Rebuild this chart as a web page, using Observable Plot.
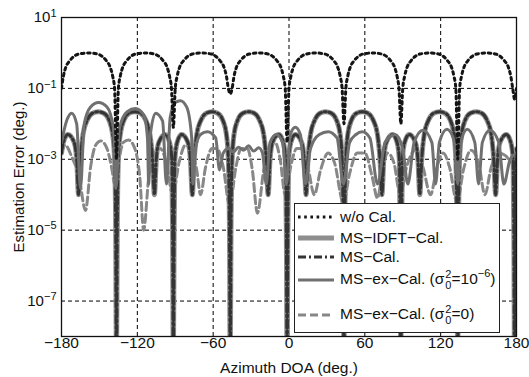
<!DOCTYPE html>
<html><head><meta charset="utf-8">
<script src="https://cdn.jsdelivr.net/npm/d3@7"></script>
<script src="https://cdn.jsdelivr.net/npm/@observablehq/plot@0.6"></script>
<style>
body{margin:0;background:#fff;}
#wrap{position:relative;width:529px;height:377px;font-family:"Liberation Sans",Arial,sans-serif;color:#111;}
#legend{position:absolute;left:294px;top:203px;width:206px;height:130px;border:1.3px solid #222;background:#fff;box-sizing:border-box;}
.row{position:absolute;left:3px;height:20px;display:flex;align-items:center;font-size:15.5px;white-space:nowrap;color:#111;}
.row svg{margin-right:6px;}
.stack{display:inline-flex;flex-direction:column;font-size:11px;line-height:11px;vertical-align:middle;margin:0 0 0 1px;text-align:center;}
.sup{font-size:11px;position:relative;top:-7px;}
</style></head><body>
<div id="wrap"></div>
<script>
// ---------- data (deg, deg error) ----------
const xTicks = [-180, -120, -60, 0, 60, 120, 180];
const yTicks = [1e-7, 1e-5, 1e-3, 1e-1, 1e1];

const woCal = [
[-180,0.1],[-178.5,0.22],[-176.5,0.4],[-173.5,0.6],[-170.5,0.78],[-166.5,0.93],[-159,1.0],[-151.5,0.93],[-147.5,0.78],[-144.5,0.6],[-141.5,0.4],[-139.5,0.22],[-138,0.1],[-136.5,0.001],
[-135,0.1],[-133.5,0.22],[-131.5,0.4],[-128.5,0.6],[-125.5,0.78],[-121.5,0.93],[-114,1.0],[-106.5,0.93],[-102.5,0.78],[-99.5,0.6],[-96.5,0.4],[-94.5,0.22],[-93,0.1],[-91.5,0.008],
[-90,0.1],[-88.5,0.22],[-86.5,0.4],[-83.5,0.6],[-80.5,0.78],[-76.5,0.93],[-69,1.0],[-61.5,0.93],[-57.5,0.78],[-54.5,0.6],[-51.5,0.4],[-49.5,0.22],[-48,0.1],[-46.5,0.07],
[-45,0.1],[-43.5,0.22],[-41.5,0.4],[-38.5,0.6],[-35.5,0.78],[-31.5,0.93],[-24,1.0],[-16.5,0.93],[-12.5,0.78],[-9.5,0.6],[-6.5,0.4],[-4.5,0.22],[-3,0.1],[-1.5,0.003],
[0,0.1],[1.5,0.22],[3.5,0.4],[6.5,0.6],[9.5,0.78],[13.5,0.93],[21,1.0],[28.5,0.93],[32.5,0.78],[35.5,0.6],[38.5,0.4],[40.5,0.22],[42,0.1],[43.5,0.01],
[45,0.1],[46.5,0.22],[48.5,0.4],[51.5,0.6],[54.5,0.78],[58.5,0.93],[66,1.0],[73.5,0.93],[77.5,0.78],[80.5,0.6],[83.5,0.4],[85.5,0.22],[87,0.1],[88.5,0.01],
[90,0.1],[91.5,0.22],[93.5,0.4],[96.5,0.6],[99.5,0.78],[103.5,0.93],[111,1.0],[118.5,0.93],[122.5,0.78],[125.5,0.6],[128.5,0.4],[130.5,0.22],[132,0.1],[133.5,0.001],
[135,0.1],[136.5,0.22],[138.5,0.4],[141.5,0.6],[144.5,0.78],[148.5,0.93],[156,1.0],[163.5,0.93],[167.5,0.78],[170.5,0.6],[173.5,0.4],[175.5,0.22],[177,0.1],[178.5,0.05],[180,0.1]
];

const msCal = [
[-180,1.5e-3],[-178.5,3e-3],[-175,5e-3],[-170,3e-3],[-168,1e-3],[-166.5,1e-4],[-165,1e-3],[-163,5e-3],[-159.5,0.013],[-155.5,0.02],[-151,0.022],[-146.5,0.02],[-142.5,0.013],[-139.5,5e-3],[-138,1e-3],[-137.1,1e-5],[-136.5,1e-9],
[-135.9,1e-5],[-135,1e-3],[-133.5,5e-3],[-130.5,0.013],[-126.5,0.02],[-122,0.022],[-117.5,0.02],[-113.5,0.013],[-110,5e-3],[-108,1e-3],[-106.5,1e-4],[-105,1e-3],[-103,3e-3],[-98,5e-3],[-94.5,3e-3],[-92.7,1e-3],[-92.1,1e-5],[-91.5,1e-9],
[-90.9,1e-5],[-90.3,1e-3],[-88.5,3e-3],[-85,5e-3],[-80,3e-3],[-78,1e-3],[-76.5,1e-4],[-75,1e-3],[-73,5e-3],[-69.5,0.013],[-65.5,0.02],[-61,0.022],[-56.5,0.02],[-52.5,0.013],[-49.5,5e-3],[-48,1e-3],[-47.1,1e-5],[-46.5,1e-9],
[-45.9,1e-5],[-45,1e-3],[-43.5,5e-3],[-40.5,0.013],[-36.5,0.02],[-32,0.022],[-27.5,0.02],[-23.5,0.013],[-20,5e-3],[-18,1e-3],[-16.5,1e-4],[-15,1e-3],[-13,3e-3],[-8,5e-3],[-4.5,3e-3],[-2.7,1e-3],[-2.1,1e-5],[-1.5,1e-9],
[-0.9,1e-5],[-0.3,1e-3],[1.5,3e-3],[5,5e-3],[10,3e-3],[12,1e-3],[13.5,1e-4],[15,1e-3],[17,5e-3],[20.5,0.013],[24.5,0.02],[29,0.022],[33.5,0.02],[37.5,0.013],[40.5,5e-3],[42,1e-3],[42.9,1e-5],[43.5,1e-9],
[44.1,1e-5],[45,1e-3],[46.5,5e-3],[49.5,0.013],[53.5,0.02],[58,0.022],[62.5,0.02],[66.5,0.013],[70,5e-3],[72,1e-3],[73.5,1e-4],[75,1e-3],[77,3e-3],[82,5e-3],[85.5,3e-3],[87.3,1e-3],[87.9,1e-5],[88.5,1e-9],
[89.1,1e-5],[89.7,1e-3],[91.5,3e-3],[95,5e-3],[100,3e-3],[102,1e-3],[103.5,1e-4],[105,1e-3],[107,5e-3],[110.5,0.013],[114.5,0.02],[119,0.022],[123.5,0.02],[127.5,0.013],[130.5,5e-3],[132,1e-3],[132.9,1e-5],[133.5,1e-9],
[134.1,1e-5],[135,1e-3],[136.5,5e-3],[139.5,0.013],[143.5,0.02],[148,0.022],[152.5,0.02],[156.5,0.013],[160,5e-3],[162,1e-3],[163.5,1e-4],[165,1e-3],[167,3e-3],[172,5e-3],[175.5,3e-3],[177.3,1e-3],[177.9,1e-5],[178.5,1e-9],
[179.1,1e-5],[180,2e-3]
];

const msIdftCal = msCal;

const msExCal6 = [
[-180,3e-3],[-176,0.012],[-172,0.02],[-168,0.01],[-165,1.5e-4],[-162,0.01],[-157,0.03],[-150.7,0.04],[-144,0.03],[-139,0.008],[-137,1.5e-4],[-134,0.008],[-128,0.022],[-121.5,0.027],[-115,0.018],[-112,0.004],[-111,2e-4],[-110,0.004],[-105.6,0.02],[-100,0.012],[-97,2e-4],[-94,0.015],[-90,0.04],[-86,0.045],[-81,0.03],[-77,0.004],[-76,2e-4],[-74,0.002],[-70,0.005],[-64.5,0.006],[-58,0.004],[-55,5e-4],[-52,1.5e-3],[-48,2e-3],[-44,1.6e-3],[-40,2.2e-3],[-36,1.8e-3],[-32,2.4e-3],[-28,1.7e-3],[-24,2.1e-3],[-21,1.5e-3],[-18,2e-4],[-15,3e-3],[-10,5e-3],[-5,3e-3],[-2,2e-4],[1,5e-3],[5,8e-3],[9,5e-3],[13,2e-4],[17,2e-3],[24,5e-3],[31,6e-3],[38,4e-3],[43,2e-4],[48,3e-3],[53,5e-3],[58,6e-3],[64,4e-3],[70,2e-4],[76,3e-3],[84,5e-3],[90,2e-3],[94,2e-4],[99,3e-3],[106,6.6e-3],[113,3e-3],[116,2e-4],[119,3e-3],[125,7e-3],[131,3e-3],[133.5,2e-4],[136,3e-3],[141,7e-3],[147,3e-3],[150,2e-4],[153,3e-3],[159,6.6e-3],[166,3e-3],[170,2e-4],[175,1e-3],[180,1.5e-3]
];

const msExCal0 = [
[-180,1.5e-3],[-177,2.5e-3],[-172,1.2e-3],[-166,3e-4],[-161,3.6e-5],[-157,6e-4],[-153,2.5e-3],[-149,3.3e-3],[-144,2e-3],[-140,5e-4],[-138,2e-4],[-135,8e-4],[-131,3e-3],[-127,3.5e-3],[-122,2e-3],[-118,3e-4],[-115,1e-5],[-111,3e-4],[-106,1.5e-3],[-102,2e-3],[-97,8e-4],[-92,1e-4],[-87,8e-4],[-82,2.5e-3],[-78,2e-3],[-73,5e-4],[-70,1e-4],[-66,6e-4],[-61,2e-3],[-57,2e-3],[-52,6e-4],[-47,5e-5],[-42,6e-4],[-38,2e-3],[-33,2e-3],[-29,5e-4],[-25,3e-5],[-20,5e-4],[-15,2.5e-3],[-11,3e-3],[-7,1e-3],[-3,1e-4],[2,8e-4],[6,2e-3],[10,2e-3],[15,6e-4],[20,1e-4],[25,5e-4],[31,1.5e-3],[36,8e-4],[43,6e-5],[48,4e-4],[54,1.5e-3],[60,1.5e-3],[66,3e-4],[70,8e-5],[74,5e-4],[78,1.5e-3],[83,8e-4],[88,1e-4],[93,6e-4],[100,1.8e-3],[106,6e-4],[112,1e-4],[117,6e-4],[122,1.5e-3],[127,6e-4],[133,6e-5],[138,5e-4],[144,1.8e-3],[150,8e-4],[155,1e-4],[160,6e-4],[166,1.5e-3],[172,1.2e-3],[176,8e-4],[180,1.5e-3]
];

// ---------- styles ----------
const S = {
  wo:   {stroke:"#141414", strokeWidth:3, strokeDasharray:"2.6,3.6"},
  idft: {stroke:"#8e8e8e", strokeWidth:5},
  ms:   {stroke:"#343434", strokeWidth:3, strokeDasharray:"8,3,2,3"},
  ex6:  {stroke:"#707070", strokeWidth:3},
  ex0:  {stroke:"#878787", strokeWidth:3, strokeDasharray:"8,4"}
};
const acc = {x: d => d[0], y: d => d[1], curve: "monotone-x", clip: true};

const plot = Plot.plot({
  width: 529, height: 377,
  marginLeft: 61, marginRight: 13, marginTop: 17, marginBottom: 41,
  style: {fontFamily: '"Liberation Sans", Arial, sans-serif', fontSize: "15px", color: "#111", background: "transparent"},
  x: {domain: [-180, 180]},
  y: {type: "log", domain: [1e-8, 10]},
  marks: [
    Plot.gridX(xTicks, {stroke: "#000", strokeOpacity: 1, strokeWidth: 1, strokeDasharray: "4,3"}),
    Plot.gridY(yTicks, {stroke: "#000", strokeOpacity: 1, strokeWidth: 1, strokeDasharray: "4,3"}),
    Plot.line(msExCal0, {...acc, ...S.ex0}),
    Plot.line(msIdftCal, {...acc, ...S.idft}),
    Plot.line(msCal, {...acc, ...S.ms}),
    Plot.line(msExCal6, {...acc, ...S.ex6}),
    Plot.line(woCal, {...acc, ...S.wo}),
    Plot.frame({stroke: "#111", strokeWidth: 1.3}),
    Plot.axisX({ticks: xTicks, tickSize: 0, tickPadding: 0, fontSize: 15.5, fill: "#111",
      tickFormat: d => d < 0 ? "\u2212" + (-d) : String(d),
      label: "Azimuth DOA (deg.)", labelAnchor: "center", labelOffset: 36, labelArrow: "none"}),
    Plot.axisY({ticks: yTicks, tickSize: 0, tickPadding: 5, fontSize: 15, fill: "#111",
      tickFormat: d => "10^" + Math.round(Math.log10(d)),
      label: "Estimation Error (deg.)", labelAnchor: "center", labelOffset: 48, labelArrow: "none"})
  ]
});

// superscript exponents on log ticks
d3.select(plot).selectAll("text").each(function () {
  const t = this.textContent;
  if (t.startsWith("10^")) {
    const e = t.slice(3).replace("-", "\u2212");
    const sel = d3.select(this);
    sel.text(null);
    sel.append("tspan").text("10");
    sel.append("tspan").attr("dy", "-0.5em").attr("font-size", "11px").text(e);
  }
});

const wrap = document.getElementById("wrap");
wrap.appendChild(plot);

// ---------- legend ----------
const legendRows = [
  {key: "wo", top: 3, html: "w/o Cal."},
  {key: "idft", top: 24, html: "MS\u2212IDFT\u2212Cal."},
  {key: "ms", top: 43, html: "MS\u2212Cal."},
  {key: "ex6", top: 66, html: 'MS\u2212ex\u2212Cal. (\u03c3<span class="stack"><span>2</span><span>0</span></span>=10<span class="sup">\u22126</span>)'},
  {key: "ex0", top: 101, html: 'MS\u2212ex\u2212Cal. (\u03c3<span class="stack"><span>2</span><span>0</span></span>=0)'}
];
const legend = document.createElement("div");
legend.id = "legend";
for (const r of legendRows) {
  const st = S[r.key];
  const row = document.createElement("div");
  row.className = "row";
  row.style.top = r.top + "px";
  row.innerHTML = `<svg width="36" height="12"><line x1="0" x2="36" y1="6" y2="6" stroke="${st.stroke}" stroke-width="${st.strokeWidth}" ${st.strokeDasharray ? `stroke-dasharray="${st.strokeDasharray}"` : ""}/></svg><span>${r.html}</span>`;
  legend.appendChild(row);
}
wrap.appendChild(legend);
</script>
</body></html>
